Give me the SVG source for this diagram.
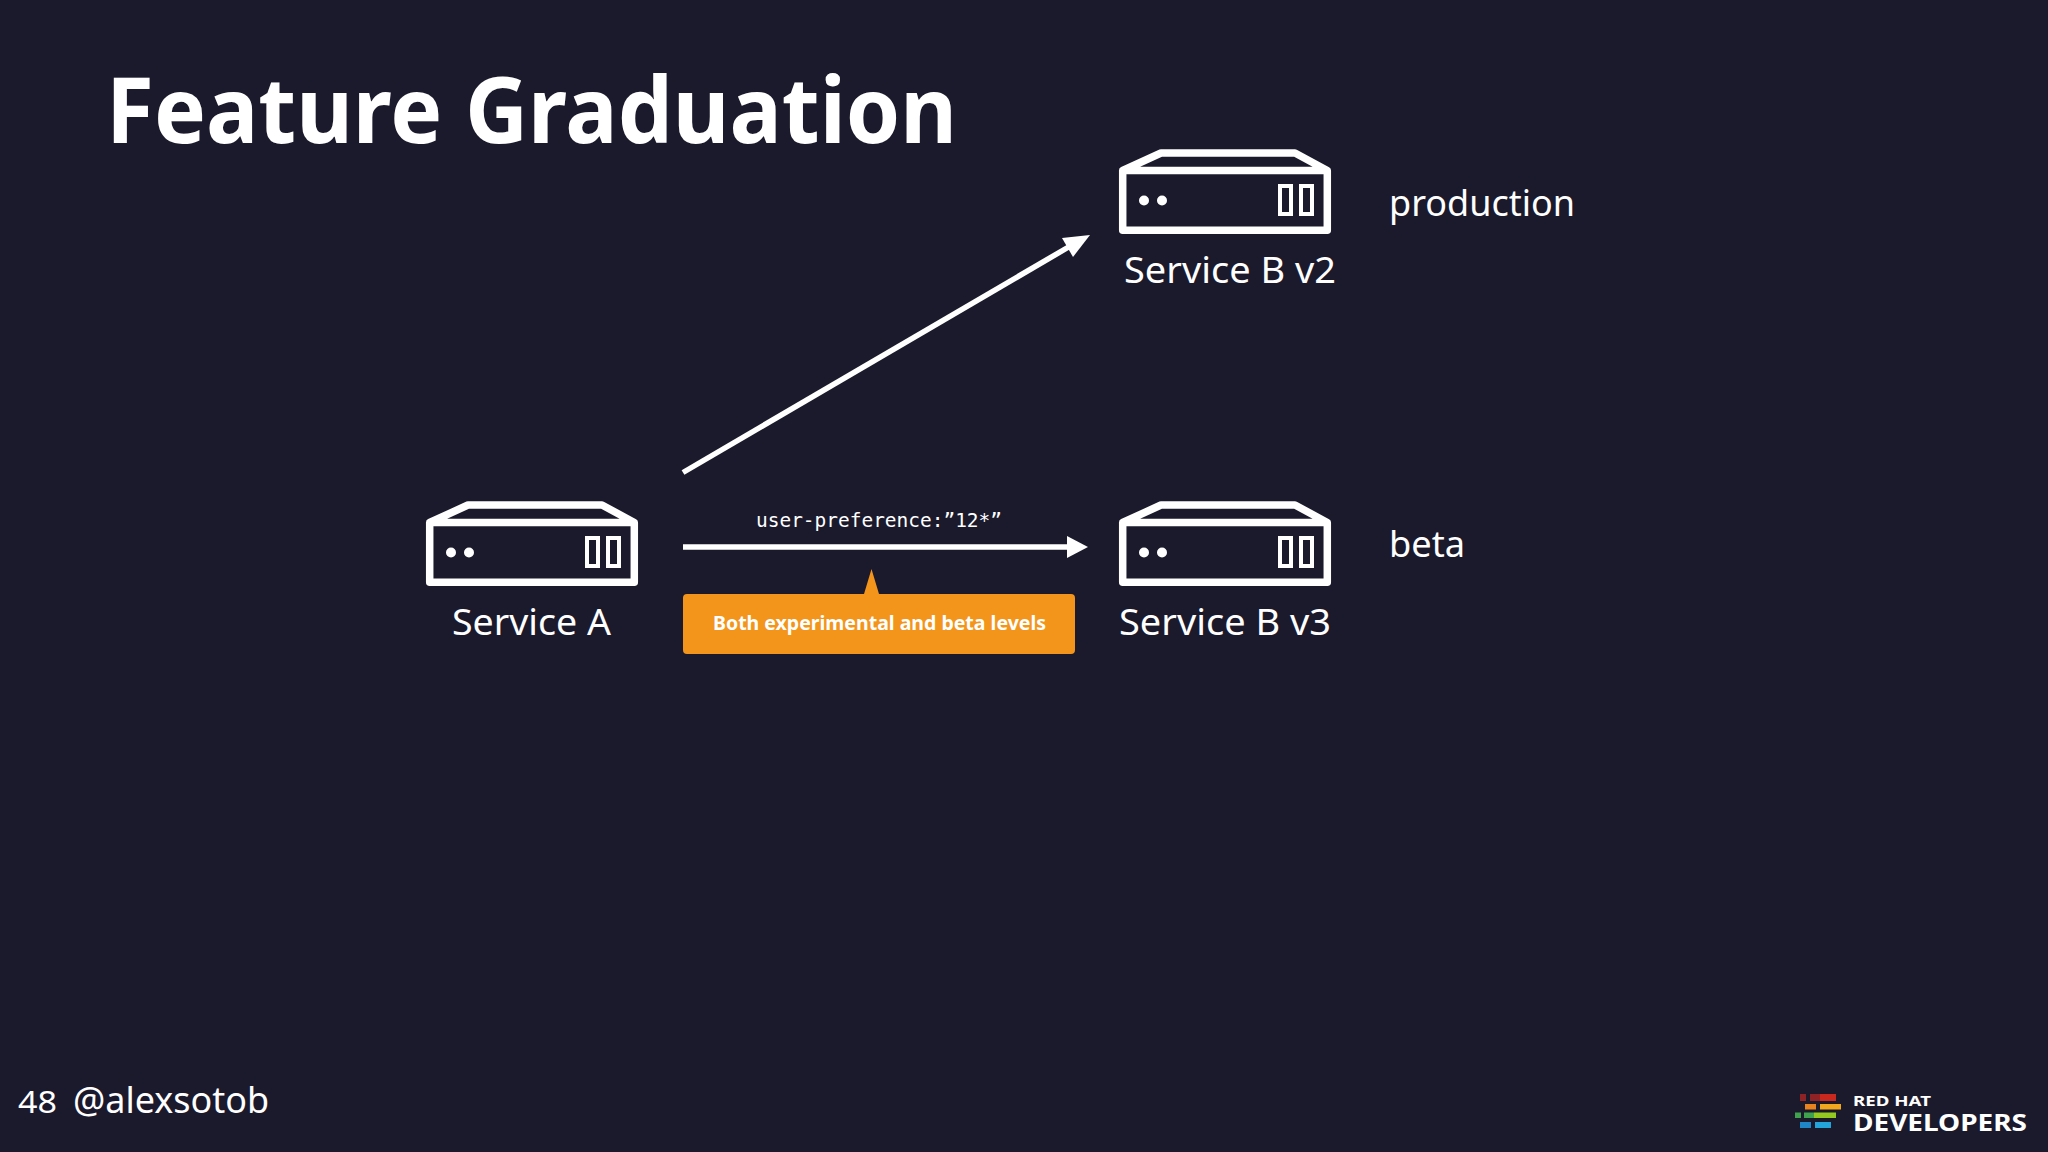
<svg xmlns="http://www.w3.org/2000/svg" width="2048" height="1152" viewBox="0 0 2048 1152">
<style>
text{fill:#fff;font-family:"Noto Sans","Open Sans",sans-serif}
.lbl{font-size:37px}
.body{fill:none;stroke:#fff;stroke-width:7.5;stroke-linejoin:round}
.slot{fill:none;stroke:#fff;stroke-width:4}
.conn{stroke:#fff;stroke-width:5.5;fill:none}
</style>
<defs>
<g id="server">
<path class="body" d="M429.700 582.300V522.500L468 505H602L634.300 522.500V582.300ZM429.700 522.500H634.300"/>
<circle cx="451" cy="552.500" r="5" fill="#fff"/><circle cx="469" cy="552.500" r="5" fill="#fff"/>
<rect class="slot" x="587" y="538" width="11" height="28"/><rect class="slot" x="608" y="538" width="11" height="28"/>
</g>
</defs>
<rect width="2048" height="1152" fill="#1b1a2c"/>
<text id="title" x="106" y="143" font-size="92" font-weight="700" textLength="851" lengthAdjust="spacingAndGlyphs">Feature Graduation</text>
<g id="connectors">
<line class="conn" x1="683" y1="472.500" x2="1072" y2="245"/>
<path fill="#fff" d="M1090 235L1073 257L1062 238Z"/>
<line class="conn" x1="683" y1="547" x2="1070" y2="547"/>
<path fill="#fff" d="M1088 547L1067 536V558Z"/>
<text x="756" y="526.500" font-size="20" style="font-family:'DejaVu Sans Mono',monospace" textLength="246" lengthAdjust="spacingAndGlyphs">user-preference:”12*”</text>
</g>
<g id="service-a"><use href="#server"/>
<text class="lbl" x="452" y="635" textLength="159" lengthAdjust="spacingAndGlyphs">Service A</text></g>
<g id="service-b-v2"><use href="#server" x="693" y="-352"/>
<text class="lbl" x="1124" y="283" textLength="212" lengthAdjust="spacingAndGlyphs">Service B v2</text>
<text class="lbl" x="1389" y="216" textLength="186" lengthAdjust="spacingAndGlyphs">production</text></g>
<g id="service-b-v3"><use href="#server" x="693"/>
<text class="lbl" x="1119" y="635" textLength="212" lengthAdjust="spacingAndGlyphs">Service B v3</text>
<text class="lbl" x="1389" y="557" textLength="76" lengthAdjust="spacingAndGlyphs">beta</text></g>
<g id="callout">
<path fill="#f3941b" d="M871.500 569L879 594H1071a4 4 0 0 1 4 4V650a4 4 0 0 1-4 4H687a4 4 0 0 1-4-4V598a4 4 0 0 1 4-4H864Z"/>
<text x="713" y="629.500" font-size="20" font-weight="700" textLength="333" lengthAdjust="spacingAndGlyphs">Both experimental and beta levels</text>
</g>
<g id="footer">
<text x="18" y="1113" font-size="30" textLength="39" lengthAdjust="spacingAndGlyphs">48</text>
<text x="73" y="1113" font-size="36" textLength="196" lengthAdjust="spacingAndGlyphs">@alexsotob</text>
</g>
<g id="logo">
<rect x="1800" y="1094" width="6" height="7" fill="#8e2224"/><rect x="1810" y="1094" width="10" height="7" fill="#8e2224"/><rect x="1820" y="1094" width="16" height="7" fill="#c8281e"/>
<rect x="1805" y="1104" width="11" height="5.500" fill="#e8821e"/><rect x="1820" y="1104" width="21" height="5.500" fill="#f2a81d"/>
<rect x="1795" y="1112.500" width="6" height="5.500" fill="#3fa34d"/><rect x="1804" y="1112.500" width="10" height="5.500" fill="#3fa34d"/><rect x="1814" y="1112.500" width="22" height="5.500" fill="#94c91f"/>
<rect x="1800" y="1122" width="11" height="6" fill="#1f86c8"/><rect x="1815" y="1122" width="16" height="6" fill="#23a5dc"/>
<text x="1853" y="1106" font-size="15" font-weight="700" textLength="78" lengthAdjust="spacingAndGlyphs">RED HAT</text>
<text x="1853" y="1131" font-size="23" font-weight="700" textLength="174" lengthAdjust="spacingAndGlyphs">DEVELOPERS</text>
</g>
</svg>
